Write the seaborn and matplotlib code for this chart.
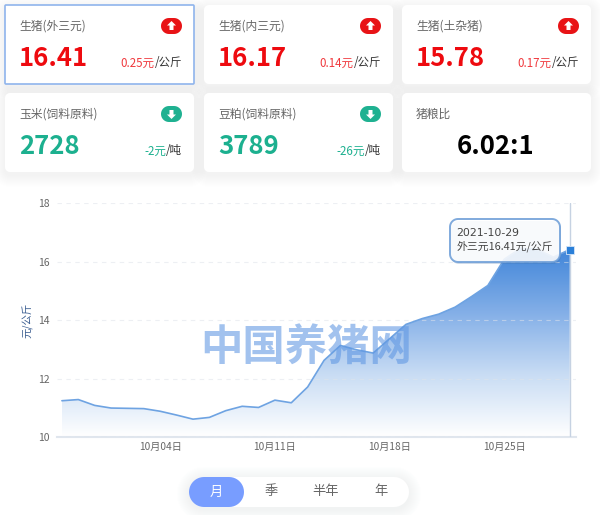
import numpy as np
import pandas as pd
import seaborn as sns
import matplotlib
matplotlib.use("Agg")
import matplotlib.pyplot as plt
import matplotlib.dates as mdates
from matplotlib.colors import LinearSegmentedColormap
from matplotlib.patches import Polygon

# ---- data ----
start_date = "2021-09-28"
prices = [11.24, 11.28, 11.08, 10.99, 10.98, 10.97, 10.88, 10.75, 10.61, 10.67, 10.90,
          11.05, 11.01, 11.26, 11.17, 11.71, 12.62, 13.13, 12.98, 12.87, 13.36, 13.85,
          14.05, 14.20, 14.44, 14.80, 15.18, 16.08, 16.45, 16.42, 16.15, 16.41]
tick_dates = ["2021-10-04", "2021-10-11", "2021-10-18", "2021-10-25"]
tick_labels = ["10月04日", "10月11日", "10月18日", "10月25日"]
y_ticks = [10, 12, 14, 16, 18]
card_titles = ["生猪(外三元)", "生猪(内三元)", "生猪(土杂猪)", "玉米(饲料原料)", "豆粕(饲料原料)", "猪粮比"]
card_values = ["16.41", "16.17", "15.78", "2728", "3789", "6.02:1"]
card_changes = ["0.25元", "0.14元", "0.17元", "-2元", "-26元", ""]
card_units = ["/公斤", "/公斤", "/公斤", "/吨", "/吨", ""]
card_dirs = [1, 1, 1, -1, -1, 0]
periods = ["月", "季", "半年", "年"]
tooltip_lines = ["2021-10-29", "外三元16.41元/公斤"]

sns.set_theme(style="white")
plt.rcParams['font.family'] = ['Noto Sans CJK SC', 'DejaVu Sans']
W, H = 600, 515
fig = plt.figure(figsize=(W / 100, H / 100), dpi=100, facecolor="white")


def rbox(a, x, y, w, h, r, **kw):
    """Rounded rectangle with true circular corners, in pixel coordinates."""
    r = min(r, w / 2, h / 2)
    t = np.linspace(0, np.pi / 2, 12)
    pts = []
    for cx, cy, a0 in [(x + w - r, y + r, -np.pi / 2), (x + w - r, y + h - r, 0),
                       (x + r, y + h - r, np.pi / 2), (x + r, y + r, np.pi)]:
        pts += [(cx + r * np.cos(a0 + q), cy + r * np.sin(a0 + q)) for q in t]
    a.add_patch(Polygon(pts, closed=True, **kw))


bg = fig.add_axes([0, 0, 1, 1], zorder=0)
bg.set_xlim(0, W); bg.set_ylim(H, 0); bg.axis("off")

RED, TEAL, GREY = "#ee0a0f", "#1cb08f", "#666666"
xs = [5, 204, 402]
ys = [5, 93]
cw, ch = 189, 79
# soft card shadows
for idx in range(6):
    r, c = divmod(idx, 3)
    for g in range(1, 13):
        rbox(bg, xs[c] - g, ys[r] - g + 3, cw + 2 * g, ch + 2 * g, 6 + g, fc="#c9d3ea", ec="none", alpha=0.017, zorder=1)

for idx in range(6):
    r, c = divmod(idx, 3)
    x0, y0 = xs[c], ys[r]
    sel = idx == 0
    rbox(bg, x0, y0, cw, ch, 1 if sel else 5, fc="white", ec="#8fb4ec" if sel else "none", lw=1.2 if sel else 0, zorder=2)
    bg.text(x0 + 14, y0 + 21, card_titles[idx], fontsize=8.5, color=GREY, va="center", ha="left", zorder=3)
    d = card_dirs[idx]
    col = RED if d > 0 else TEAL if d < 0 else "black"
    if d == 0:
        bg.text(x0 + 94, y0 + 54, card_values[idx], fontsize=18.5, fontweight="bold", color="black",
                va="center", ha="center", zorder=3)
        continue
    bg.text(x0 + 14, y0 + 54, card_values[idx], fontsize=18.5, fontweight="bold", color=col,
            va="center", ha="left", zorder=3)
    unit = bg.text(x0 + 177, y0 + 58, card_units[idx], fontsize=8.3, color="#333333", va="center", ha="right", zorder=3)
    fig.canvas.draw()
    bb = unit.get_window_extent()
    bg.text(bb.x0 * W / fig.bbox.width, y0 + 58, card_changes[idx], fontsize=8.3, color="#f0393d" if d > 0 else TEAL,
            va="center", ha="right", zorder=3)
    px, py = x0 + 156, y0 + 13
    rbox(bg, px, py, 21, 16, 8, fc="#e81316" if d > 0 else "#1fb191", ec="none", zorder=3)
    cx, cy = px + 10.5, py + 8
    s = d
    bg.add_patch(Polygon([(cx, cy - 5 * s), (cx + 4.5, cy - 0.5 * s), (cx + 2, cy - 0.5 * s), (cx + 2, cy + 4 * s),
                          (cx - 2, cy + 4 * s), (cx - 2, cy - 0.5 * s), (cx - 4.5, cy - 0.5 * s)],
                         fc="white", ec="none", zorder=4))

# period toggle
for g in range(1, 13):
    rbox(bg, 189 - g, 477 - g + 2, 220 + 2 * g, 30 + 2 * g, 15 + g, fc="#c9d3ea", ec="none", alpha=0.02, zorder=1)
rbox(bg, 189, 477, 220, 30, 15, fc="white", ec="none", zorder=2)
rbox(bg, 189, 477, 55, 30, 15, fc="#789dff", ec="none", zorder=3)
for lbl, cx, colr in zip(periods, [216, 271, 326, 381], ["white", GREY, GREY, GREY]):
    bg.text(cx, 492, lbl, fontsize=9.5, color=colr, ha="center", va="center", zorder=4)

# ---- chart ----
L, R, T, B = 57, 576, 203, 437
ax = fig.add_axes([L / W, 1 - B / H, (R - L) / W, (B - T) / H], zorder=1)
ax.patch.set_alpha(0)
df = pd.DataFrame({"date": pd.date_range(start_date, periods=len(prices), freq="D"), "price": prices})
sns.lineplot(data=df, x="date", y="price", ax=ax, color="#6ea3e2", lw=1.2, zorder=4)
xn = mdates.date2num(df["date"])

cmap = LinearSegmentedColormap.from_list("area", ["#ffffff", "#c8dcf4", "#82aee7", "#4085d9"])
poly = ax.fill_between(df["date"], prices, 10, color="none")
img = ax.imshow(np.linspace(1, 0, 256)[:, None], extent=[xn[0], xn[-1], 10, max(prices)], aspect="auto",
                cmap=cmap, vmin=0, vmax=1, zorder=2)
img.set_clip_path(poly.get_paths()[0], transform=ax.transData)
ax.set_xlim(xn[0] - 0.3, xn[-1] + 0.38)
ax.set_ylim(10, 18)

ax.set_yticks(y_ticks)
ax.set_xticks(mdates.date2num(pd.to_datetime(tick_dates)))
ax.set_xticklabels(tick_labels)
ax.tick_params(axis="x", length=3, color="#dfe5ee", labelsize=7.3, labelcolor=GREY, pad=0.5)
ax.tick_params(axis="y", length=0, labelsize=7.5, labelcolor=GREY, pad=5)
ax.grid(axis="y", color="#dfe3ea", lw=0.8, alpha=0.55, ls=(0, (4, 4)), zorder=3)
ax.set_axisbelow(False)
ax.set_xlabel("")
ax.set_ylabel("元/公斤", fontsize=7.5, color="#3d5f92")
ax.yaxis.set_label_coords((33 - L) / (R - L), (B - 320) / (B - T))
for s in ("top", "left", "right"):
    ax.spines[s].set_visible(False)
ax.spines["bottom"].set_color("#e0e6ee")
ax.spines["bottom"].set_linewidth(1.5)
ax.axvline(xn[-1], color="#c6d2e2", lw=1, zorder=3)
ax.scatter(xn[-1], prices[-1], marker="s", s=38, color="#2a7fd8", edgecolor="#d5e5f7", lw=0.6, zorder=6, clip_on=False)

# watermark and tooltip
fg = fig.add_axes([0, 0, 1, 1], zorder=2)
fg.set_xlim(0, W); fg.set_ylim(H, 0); fg.axis("off"); fg.patch.set_alpha(0)
fg.text(306, 349, "中国养猪网", fontsize=30.5, fontweight="bold", color="#5f97e3", alpha=0.58, ha="center", va="center")

rbox(fg, 451, 221, 110, 43, 8, fc="#3f6fa8", ec="none", alpha=0.25)
rbox(fg, 450, 219, 110, 43, 8, fc="white", ec="#6f9fd8", lw=1.4, alpha=0.88)
fg.text(456.5, 232.5, tooltip_lines[0], fontsize=7.8, color="#444444", va="center", ha="left", family="DejaVu Sans")
fg.text(456.5, 246.5, tooltip_lines[1], fontsize=7.8, color="#444444", va="center", ha="left")

fig.savefig("out.png", dpi=100)
